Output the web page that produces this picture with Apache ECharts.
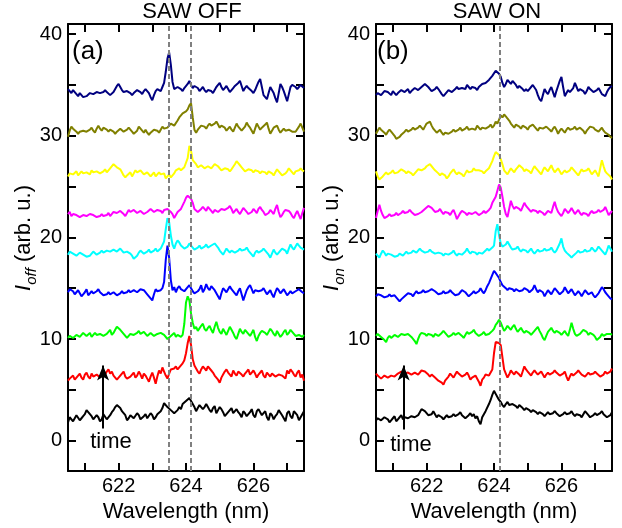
<!DOCTYPE html>
<html>
<head>
<meta charset="utf-8">
<script src="https://cdn.jsdelivr.net/npm/echarts@6/dist/echarts.min.js"></script>
<style>html,body{margin:0;padding:0;background:#fff}#c{width:622px;height:528px}</style>
</head>
<body>
<div id="c"></div>
<script>
// Wavelength grid (nm)
const wavelength = [
620.50,620.55,620.60,620.65,620.70,620.75,620.80,620.85,620.90,620.95,
621.00,621.05,621.10,621.15,621.20,621.25,621.30,621.35,621.40,621.45,
621.50,621.55,621.60,621.65,621.70,621.75,621.80,621.85,621.90,621.95,
622.00,622.05,622.10,622.15,622.20,622.25,622.30,622.35,622.40,622.45,
622.50,622.55,622.60,622.65,622.70,622.75,622.80,622.85,622.90,622.95,
623.00,623.05,623.10,623.15,623.20,623.25,623.30,623.35,623.40,623.45,
623.50,623.55,623.60,623.65,623.70,623.75,623.80,623.85,623.90,623.95,
624.00,624.05,624.10,624.15,624.20,624.25,624.30,624.35,624.40,624.45,
624.50,624.55,624.60,624.65,624.70,624.75,624.80,624.85,624.90,624.95,
625.00,625.05,625.10,625.15,625.20,625.25,625.30,625.35,625.40,625.45,
625.50,625.55,625.60,625.65,625.70,625.75,625.80,625.85,625.90,625.95,
626.00,626.05,626.10,626.15,626.20,626.25,626.30,626.35,626.40,626.45,
626.50,626.55,626.60,626.65,626.70,626.75,626.80,626.85,626.90,626.95,
627.00,627.05,627.10,627.15,627.20,627.25,627.30,627.35,627.40,627.45,
627.50];

const seriesColors = ['#000000','#ff0000','#00ff00','#0000ff','#00ffff','#ff00ff','#ffff00','#808000','#000080'];

// Panel (a) SAW OFF
const offBlack = [1.8,2.3,2.2,1.9,2.0,2.5,2.4,2.0,2.2,2.4,2.6,3.0,2.9,2.6,2.4,2.1,2.0,2.5,2.3,1.9,2.1,2.6,2.5,2.1,2.2,2.5,2.8,3.0,3.3,3.5,3.5,3.2,2.9,2.7,2.5,2.0,2.2,2.5,2.6,2.2,2.3,2.7,2.5,2.1,2.2,2.4,2.6,2.2,2.3,2.7,2.5,2.1,2.3,2.6,2.7,2.9,3.2,3.7,3.6,3.3,3.4,3.0,3.1,2.7,2.8,3.0,3.3,3.1,3.6,3.7,3.9,4.0,4.2,3.9,3.6,3.3,2.9,3.2,3.5,3.4,3.1,3.3,3.6,3.3,3.0,2.8,3.2,3.4,2.7,3.0,3.3,3.1,2.8,2.4,2.5,2.8,3.0,3.2,2.7,2.9,3.1,2.8,2.6,2.3,2.9,2.7,2.4,2.6,2.8,3.1,2.5,2.3,2.9,3.1,3.0,2.5,2.6,2.9,2.3,2.0,2.7,2.5,2.1,2.4,2.6,3.0,2.9,2.5,2.2,1.9,2.7,2.9,2.4,2.2,2.9,2.7,2.5,2.0,2.3,2.6,2.9];
const offRed = [5.9,6.1,6.2,6.4,6.0,6.2,6.4,6.6,6.2,6.0,6.5,6.7,6.3,6.1,6.6,6.3,6.2,6.5,6.4,6.2,6.7,6.9,6.5,6.8,7.0,6.6,6.8,6.4,6.3,6.0,6.1,6.4,6.6,6.8,6.3,6.1,6.0,6.3,6.5,6.7,6.2,6.4,6.8,6.5,6.1,6.6,6.4,6.1,5.8,6.3,6.7,6.2,5.6,6.3,6.9,6.6,7.2,6.8,6.4,6.1,6.6,7.0,6.9,7.1,7.3,7.0,7.2,7.4,7.6,7.9,8.6,9.6,10.3,9.4,8.0,7.4,7.1,6.8,6.6,7.0,7.3,7.1,6.9,7.3,7.2,6.9,6.7,6.4,6.3,6.0,5.7,6.2,6.5,6.8,7.0,6.7,6.6,6.3,6.9,6.6,6.4,6.8,6.7,6.5,6.3,6.6,6.8,7.0,6.5,6.7,6.9,6.6,6.2,6.5,6.6,6.9,6.4,6.2,6.7,6.5,6.3,6.6,6.5,6.3,6.2,6.5,6.6,6.4,6.3,6.1,6.9,6.6,7.0,6.8,6.5,6.3,6.7,6.9,6.2,6.5,5.9];
const offGreen = [10.1,10.3,10.3,10.1,10.2,10.4,10.5,10.2,10.3,10.6,10.6,10.3,10.4,10.6,10.2,10.4,10.6,10.4,10.3,10.5,10.5,10.3,10.2,10.5,10.7,10.9,10.4,10.6,10.9,11.2,11.1,10.9,10.7,10.5,10.4,10.1,10.2,10.5,10.6,10.4,10.3,10.6,10.8,10.5,10.4,10.7,10.6,10.3,10.3,10.6,10.5,10.3,10.2,10.5,10.4,10.6,10.7,10.4,10.3,10.0,10.1,10.3,10.4,10.6,10.2,10.4,10.3,10.2,10.4,11.5,13.6,14.2,13.8,12.5,11.6,11.0,11.2,10.8,10.9,11.3,11.5,11.0,10.8,11.1,11.3,10.9,10.6,11.2,11.7,11.1,10.7,10.5,11.0,10.7,10.4,10.8,11.2,10.9,10.6,10.2,10.0,10.5,11.0,10.7,10.5,10.9,10.8,10.5,10.3,10.6,10.9,10.2,9.8,10.3,10.6,10.8,10.9,10.6,10.4,10.7,11.0,10.8,10.5,10.3,10.8,10.5,10.2,10.4,10.7,10.9,10.4,10.6,10.9,10.7,10.6,10.3,10.2,10.4,10.5,10.2,10.4];
const offBlue = [14.6,14.9,15.0,14.7,14.4,14.6,14.8,14.5,14.2,14.4,14.6,14.9,14.3,14.5,14.7,14.5,14.4,14.7,14.9,14.6,14.5,14.3,14.2,14.4,14.6,14.4,14.3,14.6,14.5,14.3,14.2,14.5,14.7,14.5,14.4,14.6,14.8,14.6,14.5,14.8,14.9,14.6,14.6,14.9,15.0,14.8,14.7,14.4,14.3,14.0,13.8,14.4,14.9,14.7,14.6,14.8,15.0,15.6,17.8,19.2,18.0,15.8,14.8,15.1,14.6,15.0,15.2,14.9,15.0,14.7,14.8,15.1,15.3,15.0,14.7,14.5,14.4,14.7,14.9,15.3,14.6,14.9,15.4,15.0,14.8,15.2,15.1,14.8,14.7,14.2,13.9,14.5,15.0,14.8,14.6,14.9,15.2,14.9,14.8,14.5,14.3,14.7,15.0,14.4,13.8,14.3,14.8,15.1,15.3,14.9,14.5,14.8,14.9,14.7,14.6,14.8,15.0,14.7,14.4,14.6,14.8,14.4,14.1,14.6,15.0,14.8,14.5,14.7,14.9,14.6,14.3,14.5,14.7,14.5,14.4,14.7,14.6,14.9,14.8,14.6,14.5];
const offCyan = [18.3,18.6,18.7,18.4,18.5,18.2,18.2,18.5,18.6,18.3,18.4,18.1,18.0,18.2,18.3,18.6,18.5,18.3,18.2,18.5,18.7,18.5,18.4,18.7,18.8,18.6,18.5,18.8,18.9,18.6,18.6,18.9,18.8,18.5,18.4,18.6,18.7,18.4,18.2,17.9,17.8,18.2,18.5,18.7,18.6,18.4,18.3,18.6,18.8,18.5,18.5,18.7,18.9,18.6,18.7,18.9,19.0,19.6,20.8,21.9,21.5,20.2,19.3,18.9,19.4,19.7,19.5,19.2,19.1,18.9,18.8,19.1,19.4,19.2,19.0,18.8,18.7,19.0,19.2,18.9,18.8,19.1,19.3,19.0,18.9,19.2,19.1,19.4,19.5,19.0,18.7,18.5,18.3,18.6,18.9,18.7,18.5,18.7,18.8,18.5,18.4,18.7,18.9,18.7,18.6,18.8,19.0,18.7,18.5,18.3,18.1,18.5,18.7,18.5,18.4,18.7,18.9,18.7,18.6,18.3,18.0,18.4,18.8,18.5,18.3,18.5,18.7,18.9,19.0,18.7,18.4,18.9,19.3,19.0,18.8,19.1,19.4,19.2,19.0,18.9,18.8];
const offMagenta = [22.3,22.5,22.1,22.3,22.4,22.2,22.2,22.0,22.0,22.2,22.3,22.1,22.1,22.3,22.4,22.2,22.2,22.0,21.9,22.1,22.3,22.1,22.0,22.2,22.4,22.1,22.2,22.5,22.6,22.4,22.3,22.6,22.5,22.3,22.1,22.4,22.7,22.5,22.4,22.7,22.6,22.4,22.3,22.6,22.5,22.3,22.2,22.5,22.6,22.8,22.7,22.5,22.5,22.7,22.8,22.6,22.4,22.7,22.6,22.8,22.7,22.5,22.3,21.9,22.0,22.5,22.6,22.8,22.7,23.5,23.9,24.1,24.2,23.8,23.4,22.8,22.8,22.5,22.5,22.8,23.0,22.8,22.6,23.0,22.9,22.6,22.4,22.7,22.8,22.5,22.5,22.8,22.9,22.7,22.6,22.9,23.1,22.8,22.4,22.6,22.8,22.5,22.3,22.6,22.9,22.7,22.5,22.3,22.2,22.5,22.8,22.6,22.4,22.8,23.0,22.7,22.5,22.2,22.1,22.4,22.7,22.5,22.3,22.8,23.2,22.5,22.0,22.2,22.5,22.7,22.8,22.6,22.4,22.1,21.9,22.3,22.6,22.2,21.8,22.4,22.9];
const offYellow = [26.0,26.3,26.4,26.2,26.3,26.5,26.1,26.3,26.5,26.3,26.2,26.4,26.4,26.2,26.6,26.4,26.3,26.5,26.5,26.3,26.2,26.5,26.7,26.4,26.5,26.8,26.9,27.2,27.2,26.9,27.0,26.7,26.4,26.1,25.9,26.1,26.2,26.4,26.0,26.3,26.6,26.4,26.3,26.6,26.5,26.2,26.1,26.4,26.3,26.0,26.2,26.4,26.0,26.2,26.4,26.2,26.1,26.3,25.8,26.0,26.2,25.9,26.0,26.3,26.6,26.5,26.8,26.6,26.7,26.9,27.0,27.8,29.0,28.5,27.6,27.4,27.2,26.9,26.8,27.1,27.0,26.8,26.7,27.0,27.1,26.8,26.9,27.2,27.2,27.0,26.8,26.6,26.6,26.8,26.9,26.7,26.5,26.7,26.8,27.2,27.5,27.3,27.1,26.9,26.7,26.5,26.5,26.7,26.8,26.6,26.4,26.6,26.7,26.5,26.3,26.5,26.6,26.4,26.2,26.5,26.5,26.3,26.1,26.4,26.7,26.5,26.3,26.1,26.0,26.3,26.5,26.8,26.7,26.4,26.2,26.5,26.4,26.6,26.8,26.6,26.5];
const offOlive = [29.9,30.5,30.9,30.7,30.6,30.4,30.2,30.4,30.3,30.5,30.6,30.4,30.4,30.6,30.8,30.5,30.3,30.7,31.0,30.7,30.5,30.8,30.9,30.6,30.4,30.6,30.7,30.4,30.2,30.4,30.5,30.7,30.6,30.4,30.3,30.6,30.8,30.6,30.4,30.2,30.2,30.5,30.9,30.7,30.5,30.3,30.6,30.3,30.1,30.3,30.4,30.6,30.7,30.5,30.3,30.6,30.9,30.7,30.6,30.8,31.0,31.2,31.3,31.0,31.1,31.5,31.8,32.0,32.2,32.1,32.4,32.6,33.0,33.2,31.8,30.6,30.3,30.6,30.8,31.0,31.1,30.9,30.7,31.0,31.2,31.0,30.9,31.2,31.4,31.1,30.8,31.0,31.1,30.8,30.5,30.7,30.9,30.6,30.4,30.8,31.2,30.9,30.7,30.5,30.5,30.9,31.3,31.0,30.8,30.5,30.2,30.7,31.2,30.9,30.6,30.8,30.9,31.1,31.3,30.7,30.2,30.5,30.8,30.9,31.0,30.6,30.3,30.5,30.7,30.5,30.4,30.6,30.6,30.4,30.3,30.4,30.5,30.9,31.2,30.8,30.4];
const offNavy = [34.6,34.4,34.2,34.5,34.4,34.1,33.9,34.2,34.1,33.8,33.7,33.9,34.0,34.2,34.3,34.1,34.0,34.3,34.4,34.2,34.1,34.3,34.5,34.3,34.2,34.0,34.0,34.3,34.6,34.9,35.1,34.8,34.5,34.3,34.2,34.4,34.4,34.2,34.0,34.2,34.3,34.5,34.5,34.3,34.1,34.4,34.6,34.4,34.2,33.8,33.5,34.0,34.4,34.6,34.6,34.4,34.8,35.2,36.3,37.6,38.2,37.0,35.3,34.6,34.5,34.8,34.9,34.6,34.4,34.7,34.8,35.1,35.4,35.0,34.7,34.9,35.0,34.7,34.4,34.6,34.8,34.5,34.3,34.5,34.6,34.4,34.2,34.5,34.8,35.0,35.2,34.8,34.5,34.7,34.9,34.6,34.3,34.5,34.7,34.9,35.0,35.2,35.4,34.9,34.4,34.7,34.9,34.7,34.6,34.4,34.2,34.5,34.9,35.3,35.6,34.8,34.0,33.8,33.6,34.2,34.8,34.5,34.2,33.7,33.3,34.2,35.1,34.8,34.4,33.9,33.4,34.1,34.8,35.0,35.0,34.8,34.6,34.8,35.0,34.9,34.7];

// Panel (b) SAW ON
const onBlack = [2.0,2.2,2.3,2.0,2.1,2.3,2.4,2.1,1.8,2.0,2.2,2.4,1.9,2.1,2.3,2.5,2.1,2.3,2.4,2.2,2.2,2.4,2.5,2.3,2.2,2.5,2.8,3.1,3.2,2.9,2.7,2.5,2.4,2.6,2.9,2.6,2.3,2.5,2.6,2.3,2.1,2.3,2.5,2.3,2.2,2.4,2.6,2.4,2.3,2.6,2.8,2.5,2.4,2.2,2.2,2.5,2.7,2.4,2.6,2.2,2.4,1.9,1.6,2.3,2.6,2.9,3.0,3.6,4.0,4.5,4.9,4.6,4.3,4.0,3.8,3.5,3.3,3.6,3.8,3.5,3.4,3.6,3.7,3.4,3.2,3.5,3.5,3.2,3.0,3.2,3.3,3.0,2.8,3.0,3.1,2.8,2.6,2.8,2.9,2.6,2.4,2.6,2.8,2.6,2.5,2.7,2.9,2.7,2.6,2.4,2.3,2.6,2.8,2.6,2.5,2.7,2.9,2.6,2.4,2.6,2.7,2.5,2.3,2.6,2.9,2.7,2.5,2.3,2.2,2.5,2.7,2.5,2.4,2.7,2.9,2.6,2.5,2.3,2.2,2.5,2.8];
const onRed = [6.6,6.4,6.3,6.1,6.2,6.4,6.4,6.2,6.2,6.4,6.5,6.3,6.3,6.6,6.6,6.8,6.9,6.6,6.5,6.7,6.7,6.5,6.4,6.7,6.8,6.5,6.6,6.9,7.0,6.8,6.7,6.5,6.3,6.5,6.5,6.2,6.1,5.9,6.0,5.7,5.5,5.9,6.0,6.3,6.6,6.4,6.2,6.5,6.8,6.6,6.5,6.3,6.2,6.5,6.7,6.4,6.0,6.2,6.1,6.4,6.3,5.8,5.4,6.0,6.2,6.5,6.6,6.4,6.4,7.0,8.6,9.7,9.8,9.6,9.4,8.2,7.0,6.6,6.2,6.5,6.9,6.7,6.5,6.8,6.8,6.5,6.3,6.8,7.3,7.0,6.8,6.6,6.4,6.7,6.9,6.7,6.5,6.6,6.8,6.5,6.2,6.5,6.7,6.5,6.4,6.7,6.9,6.7,6.6,6.4,6.3,6.6,6.8,6.3,5.9,6.3,6.6,6.4,6.4,6.7,6.9,6.7,6.5,6.4,6.3,6.5,6.7,6.5,6.4,6.6,6.8,6.6,6.5,6.3,6.2,6.5,6.8,6.6,6.5,6.8,7.1];
const onGreen = [10.3,10.5,10.5,10.2,10.2,9.9,9.7,10.1,10.3,10.1,10.1,10.4,10.4,10.2,10.2,10.5,10.6,10.4,10.3,10.5,10.5,10.2,10.2,9.8,9.5,10.0,10.4,10.6,10.7,10.5,10.3,10.5,10.6,10.4,10.2,10.5,10.5,10.3,10.3,10.6,10.8,10.6,10.4,10.2,10.2,10.4,10.6,10.4,10.3,10.6,10.5,10.3,10.1,10.4,10.7,10.5,10.4,10.7,10.9,10.6,10.5,10.3,10.2,10.5,10.7,10.4,10.3,10.5,10.6,10.8,11.0,11.4,11.6,11.9,11.6,11.2,10.8,11.0,11.3,11.1,10.9,11.2,11.4,11.0,10.7,10.9,11.1,10.8,10.6,10.8,10.9,10.6,10.4,10.6,10.8,11.0,11.2,10.8,10.5,10.1,9.9,10.3,10.7,10.9,11.1,10.8,10.6,10.8,10.9,10.6,10.4,10.6,10.8,10.5,10.3,10.9,11.6,11.0,10.5,10.3,10.2,10.5,10.7,10.9,11.0,10.7,10.4,10.6,10.6,10.4,10.2,9.9,9.8,10.2,10.5,10.3,10.3,10.5,10.6,10.5,10.4];
const onBlue = [14.2,14.4,14.5,14.3,14.3,14.1,14.0,14.2,14.4,14.2,14.1,14.3,14.2,13.9,13.7,13.9,14.0,14.2,14.3,14.5,14.6,14.4,14.2,14.5,14.7,14.5,14.4,14.6,14.8,14.6,14.5,14.7,14.7,14.9,14.9,14.7,14.6,14.4,14.3,14.5,14.7,14.5,14.4,14.6,14.8,14.6,14.5,14.3,14.2,14.4,14.6,14.8,14.9,14.6,14.4,14.2,14.2,14.5,14.7,14.5,14.4,14.7,15.0,14.7,14.5,14.8,15.2,15.5,15.6,16.3,16.7,16.5,16.6,16.0,15.6,15.3,15.2,15.0,14.8,15.0,15.1,14.9,14.7,14.9,14.9,14.7,14.6,14.8,15.0,14.9,14.8,14.6,14.5,14.9,15.3,14.9,14.6,14.8,14.9,14.6,14.2,14.5,14.8,14.6,14.4,14.7,15.0,14.8,14.6,14.4,14.3,14.7,15.1,14.8,14.5,14.7,14.9,14.6,14.3,14.5,14.7,14.5,14.2,14.5,14.8,14.6,14.4,14.5,14.6,14.3,14.1,14.3,14.5,14.8,15.1,14.9,14.6,14.4,14.2,14.0,13.9];
const onCyan = [18.4,18.2,18.0,18.4,18.7,18.5,18.2,18.4,18.5,18.3,18.3,18.1,18.0,18.2,18.4,18.3,18.2,18.4,18.6,18.4,18.3,18.5,18.7,18.6,18.5,18.7,18.9,18.7,18.6,18.5,18.4,18.6,18.8,18.6,18.5,18.4,18.3,18.5,18.6,18.4,18.2,18.4,18.5,18.3,18.3,18.5,18.7,18.4,18.2,18.4,18.5,18.3,18.3,18.6,18.9,18.6,18.4,18.6,18.7,18.5,18.3,18.5,18.6,18.4,18.4,18.7,18.9,18.7,18.8,19.0,19.2,20.6,21.3,20.2,19.4,19.1,19.0,19.3,19.6,19.3,19.0,18.8,18.7,18.9,19.1,18.8,18.6,18.8,18.9,18.7,18.5,18.7,18.9,18.6,18.4,18.6,18.8,18.6,18.5,18.7,18.9,18.7,18.6,18.8,19.0,18.7,18.5,18.7,18.8,19.4,19.9,19.1,18.7,18.5,18.4,18.2,18.0,18.2,18.3,18.5,18.7,18.5,18.4,18.6,18.8,18.6,18.5,18.7,19.0,18.8,18.6,18.8,19.1,18.9,18.7,18.5,18.3,18.7,19.2,18.9,18.6];
const onMagenta = [21.9,22.6,23.2,22.6,22.2,21.9,21.8,22.1,22.3,22.1,22.0,22.2,22.4,22.2,22.1,22.4,22.6,22.4,22.3,22.5,22.7,22.5,22.4,22.2,22.1,22.3,22.3,22.5,22.6,22.8,22.9,23.1,23.1,22.9,22.7,22.5,22.4,22.6,22.8,22.5,22.3,22.5,22.6,22.4,22.2,22.5,22.7,22.3,21.8,22.1,22.4,22.6,22.6,22.4,22.2,22.4,22.5,22.3,22.3,22.5,22.4,22.2,22.2,22.4,22.6,22.4,22.5,22.7,22.9,23.4,23.4,24.0,24.6,25.2,24.9,24.0,23.0,22.3,22.0,22.8,23.6,23.1,22.8,23.0,23.1,22.8,22.6,23.0,23.4,23.1,22.9,22.7,22.5,22.7,22.8,22.6,22.4,22.6,22.7,22.4,22.2,22.4,22.6,22.5,22.4,23.0,23.5,22.9,22.5,22.3,22.1,22.4,22.8,22.6,22.4,22.6,22.9,22.6,22.3,22.5,22.7,22.4,22.2,22.4,22.5,22.3,22.1,22.4,22.6,22.4,22.3,22.5,22.7,22.5,22.4,22.7,23.0,22.6,22.2,22.4,22.6];
const onYellow = [26.5,26.0,25.7,25.8,26.0,26.2,26.4,26.2,26.1,26.4,26.6,26.3,26.2,26.4,26.5,26.7,26.8,26.5,26.3,26.5,26.6,26.3,26.1,26.3,26.5,26.7,26.8,26.6,26.6,26.8,27.0,27.1,27.2,27.0,26.8,26.6,26.5,26.3,26.1,26.3,26.4,26.1,25.8,26.0,26.3,26.5,26.7,26.4,26.2,26.4,26.5,26.2,26.0,26.3,26.6,26.4,26.3,26.5,26.8,26.6,26.5,26.6,26.7,26.5,26.3,26.5,26.6,26.8,26.9,27.5,28.0,28.4,28.3,28.1,27.7,27.2,26.6,26.4,26.2,26.5,26.8,26.6,26.4,26.7,26.9,27.1,27.2,26.8,26.5,26.7,26.8,26.5,26.3,26.7,27.0,26.8,26.6,26.4,26.2,26.6,26.9,26.7,26.5,26.8,27.1,26.7,26.4,26.6,26.8,26.5,26.2,26.4,26.6,26.4,26.3,26.6,26.9,26.7,26.5,26.3,26.1,26.4,26.7,26.5,26.4,26.6,26.8,26.5,26.2,26.4,26.6,26.3,26.0,26.8,27.6,27.0,26.5,26.3,26.2,26.0,25.7];
const onOlive = [30.2,30.5,30.8,30.6,30.5,30.3,30.1,30.4,30.6,30.4,30.3,30.0,29.7,29.8,29.9,30.1,30.2,30.4,30.6,30.4,30.3,30.6,30.8,30.6,30.5,30.8,31.0,30.8,30.6,30.9,31.2,31.3,31.4,31.0,30.7,30.5,30.3,30.4,30.6,30.3,30.1,30.3,30.4,30.2,30.2,30.4,30.6,30.4,30.3,30.6,30.8,30.5,30.4,30.7,30.9,30.6,30.5,30.7,30.8,30.6,31.0,30.8,30.6,30.8,30.9,30.7,30.7,30.9,31.1,30.8,31.0,31.4,31.2,31.6,32.0,31.8,32.1,31.9,31.8,31.5,31.2,31.0,30.8,31.1,31.1,30.9,30.7,31.0,31.0,30.8,30.6,30.9,30.9,31.1,31.0,30.7,30.5,30.8,30.9,30.7,30.6,30.9,30.8,30.6,30.4,30.7,30.9,30.6,30.2,30.5,30.7,30.5,30.3,30.6,30.8,30.6,30.5,30.7,30.9,30.6,30.6,30.8,30.9,30.5,30.2,30.5,30.7,30.9,31.0,30.8,30.6,30.5,30.4,30.6,30.8,30.5,30.3,30.2,30.1,29.9,29.8];
const onNavy = [34.0,34.2,34.3,34.0,34.1,34.4,34.5,34.3,34.2,34.0,34.4,34.2,34.0,34.2,34.3,34.5,34.6,34.3,34.4,34.6,34.2,34.4,34.5,34.7,34.7,34.5,34.5,34.8,34.9,35.1,35.0,34.8,34.6,34.4,34.4,34.6,34.8,34.6,34.5,34.1,33.9,34.1,34.3,34.5,34.6,34.3,34.4,34.6,34.8,34.6,34.5,34.7,34.8,34.6,35.0,34.8,34.6,34.8,34.9,34.7,34.5,34.8,34.8,35.1,35.0,35.2,35.3,35.5,35.7,35.9,36.0,36.4,36.3,36.1,35.8,35.2,34.8,35.1,35.5,35.3,35.1,35.4,35.3,35.0,34.7,34.9,34.9,34.6,34.4,34.6,34.4,34.6,34.8,35.0,35.0,34.5,34.0,33.6,33.4,34.0,34.6,34.3,34.1,34.5,34.8,34.3,33.8,34.4,34.9,35.4,35.8,34.8,33.9,34.2,34.5,34.3,34.2,34.7,35.2,34.8,34.4,34.6,34.7,34.4,34.1,34.4,34.8,34.6,34.5,34.3,34.3,34.5,34.7,34.4,34.1,34.0,33.9,34.3,34.6,34.8,34.9];

const offSpectra = [offBlack, offRed, offGreen, offBlue, offCyan, offMagenta, offYellow, offOlive, offNavy];
const onSpectra = [onBlack, onRed, onGreen, onBlue, onCyan, onMagenta, onYellow, onOlive, onNavy];

// Dashed reference lines (nm)
const offLines = [623.5, 624.15];
const onLines = [624.18];
// "time" arrows: [wavelength, start, end]
const offArrow = [621.54, 1.2, 7.4];
const onArrow = [621.32, 1.1, 7.4];

const xTicks = [621, 622, 623, 624, 625, 626, 627];
const xLabels = [622, 624, 626];
const yTicks = [0, 5, 10, 15, 20, 25, 30, 35, 40];
const yLabels = [0, 10, 20, 30, 40];

const bad = [];
offSpectra.concat(onSpectra).forEach((a, k) => { if (a.length !== wavelength.length) bad.push(k + ':' + a.length); });
if (bad.length) throw new Error('length mismatch ' + bad.join(' ') + ' expected ' + wavelength.length);

const FONT = 'Liberation Sans, Arial, sans-serif';
const chart = echarts.init(document.getElementById('c'), null, {renderer: 'canvas'});

function xAx(gi, pos, labels) {
  return {
    type: 'value', gridIndex: gi, position: pos, min: 620.5, max: 627.5,
    axisLine: {show: true, onZero: false, lineStyle: {color: '#000', width: 2}},
    axisTick: {show: true, inside: true, length: 8, customValues: xTicks, lineStyle: {color: '#000', width: 2}},
    axisLabel: {show: labels, customValues: xLabels, margin: 5, color: '#000', fontSize: 20, fontFamily: FONT},
    splitLine: {show: false},
    name: labels ? 'Wavelength (nm)' : '', nameLocation: 'middle', nameGap: 21,
    nameTextStyle: {color: '#000', fontSize: 22, fontFamily: FONT}
  };
}
function yAx(gi, pos, labels) {
  return {
    type: 'value', gridIndex: gi, position: pos, min: -3, max: 41,
    axisLine: {show: true, onZero: false, lineStyle: {color: '#000', width: 2}},
    axisTick: {show: true, inside: true, length: 8, customValues: yTicks, lineStyle: {color: '#000', width: 2}},
    axisLabel: {show: labels, customValues: yLabels, margin: 6, color: '#000', fontSize: 20, fontFamily: FONT},
    splitLine: {show: false}
  };
}

const series = [];
function addPanel(spectra, xi, yi, lines, arrow) {
  spectra.forEach((vals, k) => {
    const s = {
      type: 'line', xAxisIndex: xi, yAxisIndex: yi, showSymbol: false, symbol: 'none',
      data: wavelength.map((w, i) => [w, vals[i]]),
      lineStyle: {color: seriesColors[k], width: 2}, itemStyle: {color: seriesColors[k]},
      clip: true, z: 3, silent: true
    };
    if (k === 0) {
      s.markLine = {
        silent: true, symbol: 'none', animation: false, label: {show: false},
        lineStyle: {color: '#808080', width: 2, type: [5, 3]},
        data: lines.map(v => ({xAxis: v})).concat([[
          {coord: [arrow[0], arrow[1]], symbol: 'none', lineStyle: {color: '#000', width: 2, type: 'solid'}},
          {coord: [arrow[0], arrow[2]], symbol: 'arrow', symbolSize: [9, 15], lineStyle: {color: '#000', width: 2, type: 'solid'}}
        ]])
      };
    }
    series.push(s);
  });
}
addPanel(offSpectra, 0, 0, offLines, offArrow);
addPanel(onSpectra, 2, 2, onLines, onArrow);

function yName(x, sub) {
  return {
    type: 'text', x: x, y: 238, rotation: Math.PI / 2,
    style: {
      text: '{i|I}{s|' + sub + '}{t| (arb. u.)}',
      align: 'center', verticalAlign: 'middle', fill: '#000',
      rich: {
        i: {fontSize: 22, fontStyle: 'italic', fontFamily: FONT, lineHeight: 30, fill: '#000'},
        s: {fontSize: 15, fontStyle: 'italic', fontFamily: FONT, lineHeight: 30, verticalAlign: 'bottom', fill: '#000'},
        t: {fontSize: 22, fontFamily: FONT, lineHeight: 30, fill: '#000'}
      }
    }
  };
}

const txt = (x, y, text, size, align, vAlign) => ({
  type: 'text', x: x, y: y,
  style: {text: text, fontSize: size, fontFamily: FONT, fill: '#000', align: align || 'center', verticalAlign: vAlign || 'middle'}
});

chart.setOption({
  animation: false,
  backgroundColor: '#fff',
  grid: [
    {left: 68, right: 318, top: 24, bottom: 54},
    {left: 376, right: 10, top: 24, bottom: 54}
  ],
  xAxis: [xAx(0, 'bottom', true), xAx(0, 'top', false), xAx(1, 'bottom', true), xAx(1, 'top', false)],
  yAxis: [yAx(0, 'left', true), yAx(0, 'right', false), yAx(1, 'left', true), yAx(1, 'right', false)],
  series: series,
  graphic: [
    txt(192, 12, 'SAW OFF', 22),
    txt(497, 12, 'SAW ON', 22),
    txt(72, 52, '(a)', 26, 'left'),
    txt(377, 52, '(b)', 26, 'left'),
    txt(111, 442, 'time', 22),
    txt(411, 445, 'time', 22),
    yName(24, 'off'),
    yName(332, 'on')
  ]
});
</script>
</body>
</html>
